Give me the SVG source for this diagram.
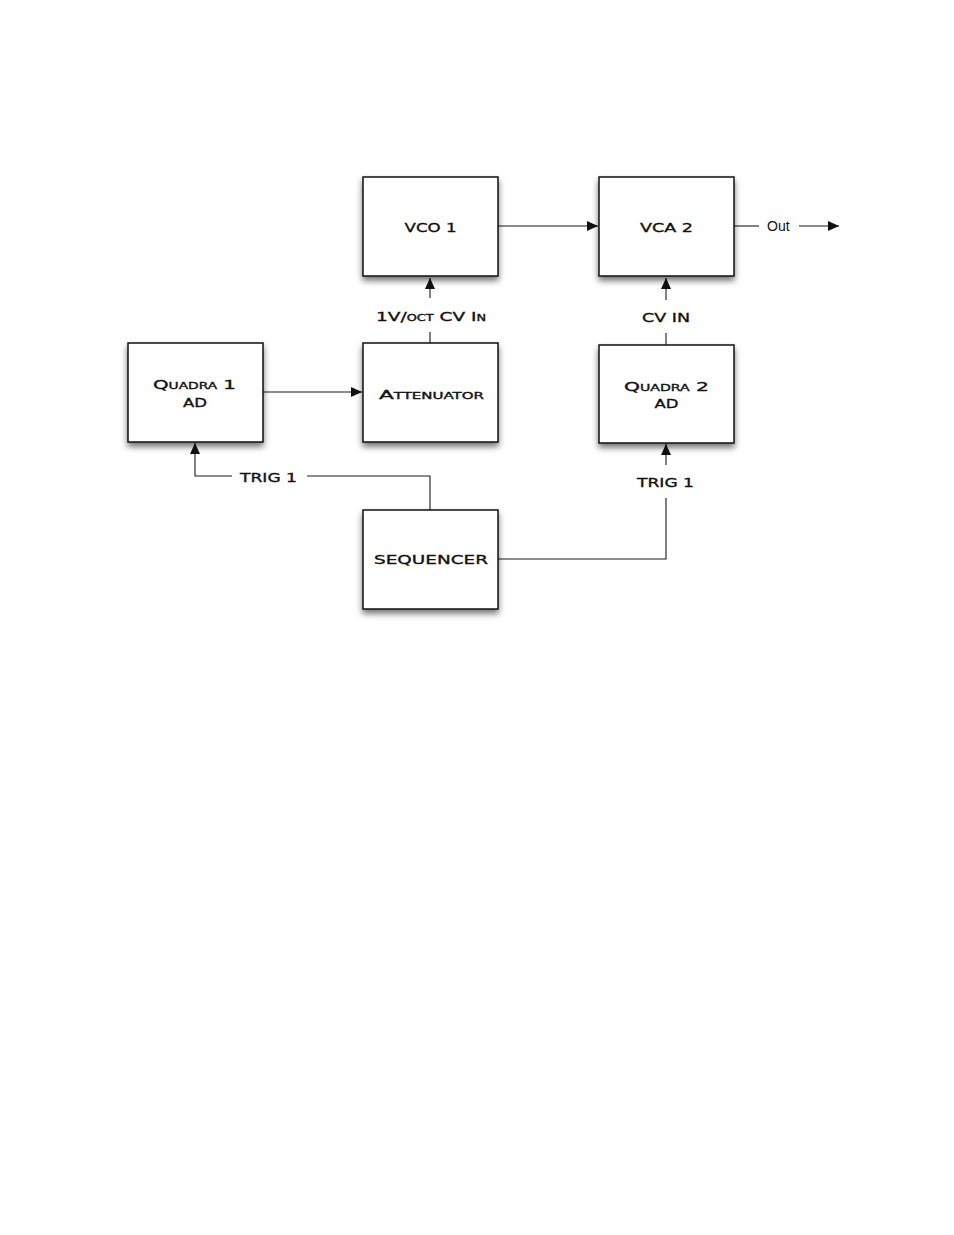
<svg xmlns="http://www.w3.org/2000/svg" width="954" height="1235" viewBox="0 0 954 1235">
<style>
.box{fill:#fff;stroke:#111;stroke-width:1.5;filter:url(#sh)}
.lbl{font-family:"DejaVu Sans","Liberation Sans",sans-serif;font-weight:normal;font-size:13px;font-variant:small-caps;fill:#111;stroke:#111;stroke-width:0.35;text-anchor:middle}
.con{fill:none;stroke:#1a1a1a;stroke-width:1.1}
.out{font-family:"Liberation Sans",Arial,sans-serif;font-size:14px;fill:#111}
</style>
<defs>
<filter id="sh" x="-20%" y="-20%" width="140%" height="150%">
<feDropShadow dx="0" dy="4" stdDeviation="3" flood-color="#000" flood-opacity="0.55"/>
</filter>
<marker id="ah" markerUnits="userSpaceOnUse" markerWidth="12" markerHeight="10" refX="11" refY="5" orient="auto">
<path d="M0,0 L11,5 L0,10 Z" fill="#111"/>
</marker>
</defs>
<rect width="954" height="1235" fill="#fff"/>
<g id="connectors">
<path class="con" d="M498,226 H598" marker-end="url(#ah)"/>
<path class="con" d="M734,226 H759"/>
<path class="con" d="M799,226 H839" marker-end="url(#ah)"/>
<path class="con" d="M430,343 V332"/>
<path class="con" d="M430,298 V278" marker-end="url(#ah)"/>
<path class="con" d="M666,345 V333"/>
<path class="con" d="M666,300 V278" marker-end="url(#ah)"/>
<path class="con" d="M263,392 H362" marker-end="url(#ah)"/>
<path class="con" d="M430,510 V476 H307"/>
<path class="con" d="M232,476 H195 V443" marker-end="url(#ah)"/>
<path class="con" d="M498,559 H666 V498"/>
<path class="con" d="M666,465 V444" marker-end="url(#ah)"/>
<text class="lbl" x="431" y="321" textLength="110" lengthAdjust="spacingAndGlyphs">1V/oct CV In</text>
<text class="lbl" x="666" y="322" textLength="48" lengthAdjust="spacingAndGlyphs">CV IN</text>
<text class="lbl" x="268.5" y="482" textLength="57" lengthAdjust="spacingAndGlyphs">TRIG 1</text>
<text class="lbl" x="665.5" y="487" textLength="57" lengthAdjust="spacingAndGlyphs">TRIG 1</text>
<text class="out" x="767" y="231">Out</text>
</g>
<g id="vco1">
<rect class="box" x="363" y="177" width="135" height="99"/>
<text class="lbl" x="430.5" y="232" textLength="52" lengthAdjust="spacingAndGlyphs">VCO 1</text>
</g>
<g id="vca2">
<rect class="box" x="599" y="177" width="135" height="99"/>
<text class="lbl" x="666.5" y="232" textLength="53" lengthAdjust="spacingAndGlyphs">VCA 2</text>
</g>
<g id="quadra1">
<rect class="box" x="128" y="343" width="135" height="99"/>
<text class="lbl" x="194.5" y="389" textLength="83" lengthAdjust="spacingAndGlyphs">Quadra 1</text>
<text class="lbl" x="195" y="407" textLength="24" lengthAdjust="spacingAndGlyphs">AD</text>
</g>
<g id="attenuator">
<rect class="box" x="363" y="343" width="135" height="99"/>
<text class="lbl" x="431.5" y="399" textLength="105" lengthAdjust="spacingAndGlyphs">Attenuator</text>
</g>
<g id="quadra2">
<rect class="box" x="599" y="345" width="135" height="98"/>
<text class="lbl" x="666.5" y="391" textLength="85" lengthAdjust="spacingAndGlyphs">Quadra 2</text>
<text class="lbl" x="666.5" y="408" textLength="24" lengthAdjust="spacingAndGlyphs">AD</text>
</g>
<g id="sequencer">
<rect class="box" x="363" y="510" width="135" height="99"/>
<text class="lbl" x="431" y="564" textLength="114" lengthAdjust="spacingAndGlyphs">SEQUENCER</text>
</g>
</svg>
